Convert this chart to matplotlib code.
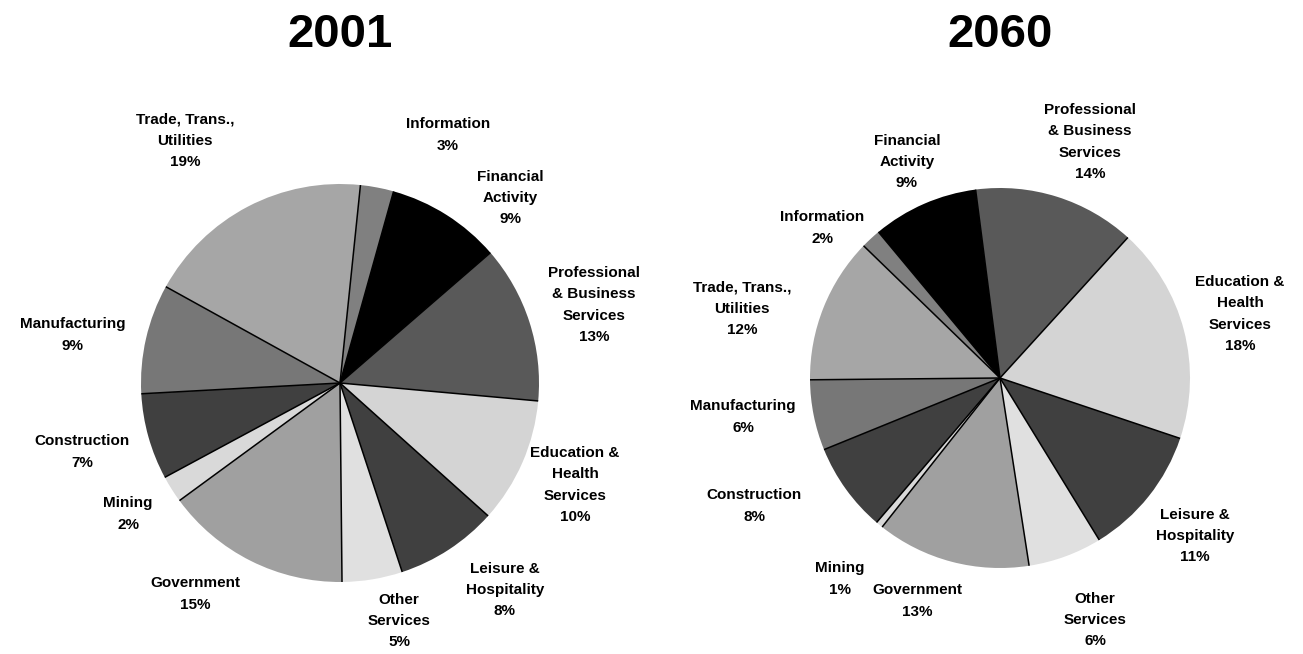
import numpy as np
import matplotlib.pyplot as plt

# sectors, clockwise from the top
sectors = ["Information", "Financial\nActivity", "Professional\n& Business\nServices",
           "Education &\nHealth\nServices", "Leisure &\nHospitality", "Other\nServices",
           "Government", "Mining", "Construction", "Manufacturing",
           "Trade, Trans.,\nUtilities"]
share_2001 = [2.7, 9.3, 12.8, 10.2, 8.3, 4.9, 15.1, 2.2, 7.0, 8.9, 18.6]
share_2060 = [1.7, 9.0, 13.8, 18.4, 11.1, 6.3, 13.1, 0.6, 7.6, 6.0, 12.4]
greys = ["#808080", "#000000", "#595959", "#d4d4d4", "#404040", "#e0e0e0",
         "#a0a0a0", "#d9d9d9", "#404040", "#777777", "#a6a6a6"]

W, H = 1303, 654
fig = plt.figure(figsize=(W / 100, H / 100), dpi=100)
ax = fig.add_axes([0, 0, 1, 1])


def py(y):
    return H - y


# label positions in pixels (x, y from top)
pos_2001 = [(448, 135), (510, 198), (594, 305), (575, 485), (505, 590), (399, 621),
            (195, 594), (128, 514), (82, 452), (73, 335), (185, 141)]
pos_2060 = [(822, 228), (907, 162), (1090, 142), (1240, 314), (1195, 536), (1095, 620),
            (917, 601), (840, 579), (754, 506), (743, 417), (742, 309)]

pies = [
    ("2001", share_2001, (340, 383), 199, 84.1, pos_2001),
    ("2060", share_2060, (1000, 378), 190, 135.9, pos_2060),
]

for title, vals, (cx, cy), r, start, pos in pies:
    c = (cx, py(cy))
    wedges, _ = ax.pie(vals, colors=greys, startangle=start, counterclock=False,
                       center=c, radius=r, wedgeprops=dict(linewidth=0))
    for w in wedges:
        t = np.deg2rad(w.theta2)
        ax.plot([c[0], c[0] + r * np.cos(t)], [c[1], c[1] + r * np.sin(t)],
                color="black", lw=1.1, solid_capstyle="butt")
    for name, v, (lx, ly) in zip(sectors, vals, pos):
        ax.text(lx, py(ly), f"{name}\n{int(v + 0.5)}%", ha="center", va="center",
                fontsize=11, fontweight="bold", family="Liberation Sans",
                linespacing=1.65)
    ax.text(cx, py(35), title, ha="center", va="center", fontsize=34,
            fontweight="bold", family="Liberation Sans")

ax.set_xlim(0, W)
ax.set_ylim(0, H)
ax.set_aspect("equal")
ax.axis("off")

fig.savefig("out.png", dpi=100)
